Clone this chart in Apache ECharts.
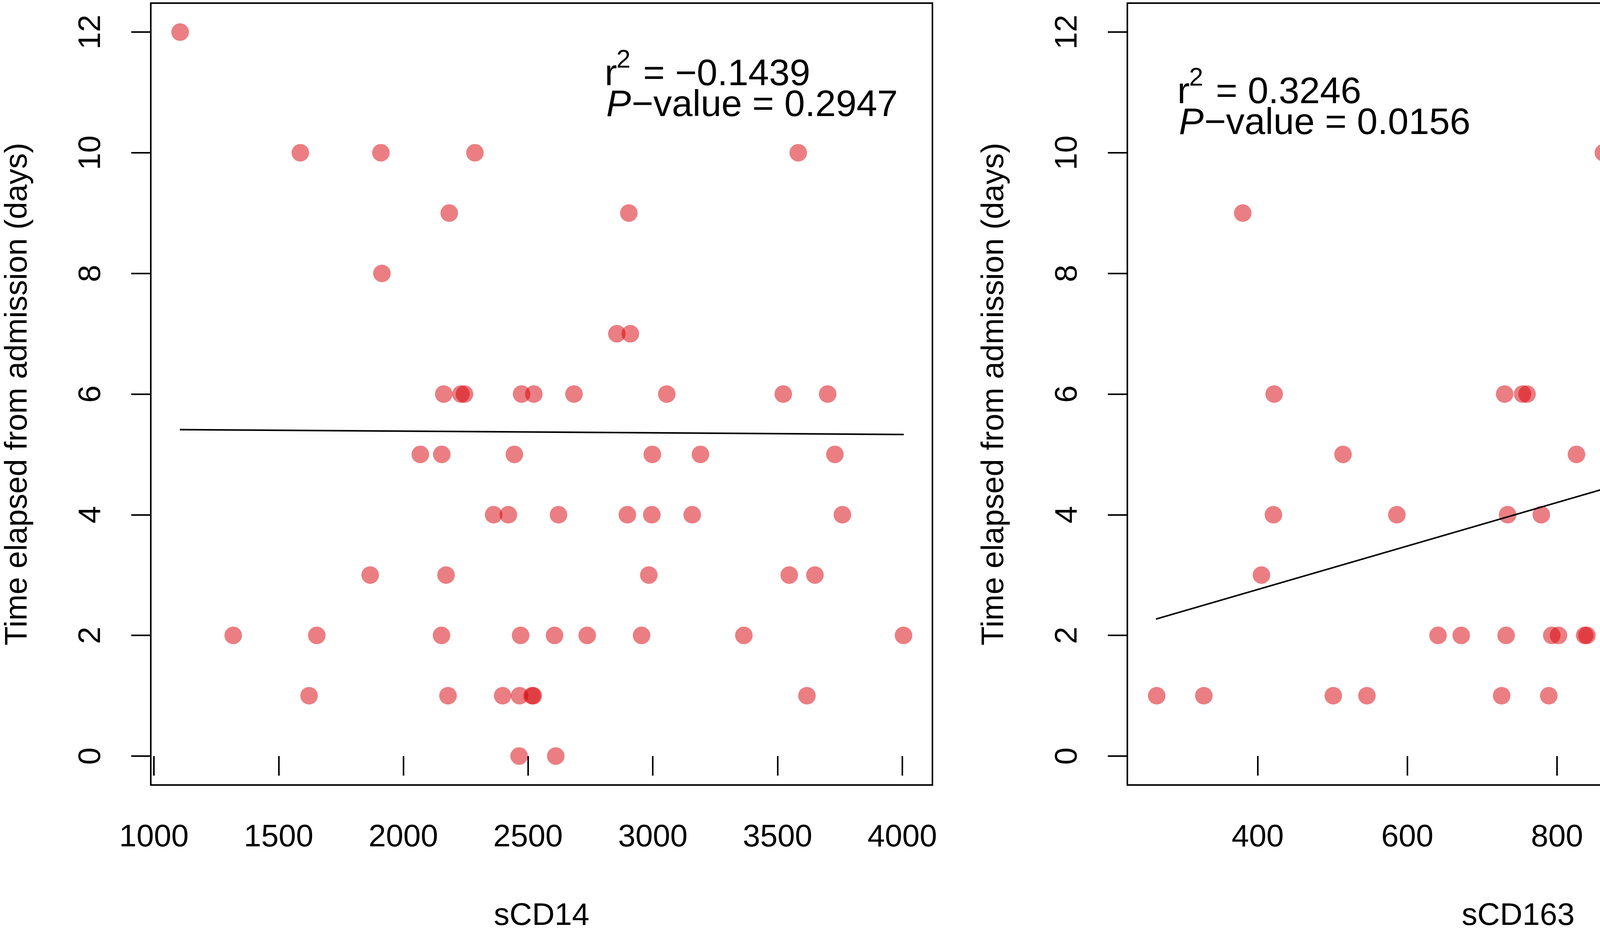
<!DOCTYPE html>
<html>
<head>
<meta charset="utf-8">
<script src="https://cdn.jsdelivr.net/npm/echarts@6/dist/echarts.min.js"></script>
<style>
html,body{margin:0;padding:0;background:#fff}
#main{width:4897px;height:2398px}
</style>
</head>
<body>
<div id="main"></div>
<script>
// sCD14 panel (left): x = sCD14, y = days since admission
var sCD14 = [1105, 1587, 1910, 2287, 3583, 2184, 2904, 1914, 2856, 2910,
    2162, 2231, 2245, 2474, 2523, 2684, 3056, 3523, 3701,
    2068, 2154, 2445, 2998, 3191, 3730,
    2362, 2421, 2622, 2898, 2996, 3158, 3760,
    1867, 2171, 2984, 3547, 3650,
    1318, 1653, 2153, 2470, 2606, 2737, 2955, 3365, 4005,
    1622, 2179, 2398, 2466, 2516, 2521, 3618,
    2464, 2611];
var daysCD14 = [12, 10, 10, 10, 10, 9, 9, 8, 7, 7,
    6, 6, 6, 6, 6, 6, 6, 6, 6,
    5, 5, 5, 5, 5, 5,
    4, 4, 4, 4, 4, 4, 4,
    3, 3, 3, 3, 3,
    2, 2, 2, 2, 2, 2, 2, 2, 2,
    1, 1, 1, 1, 1, 1, 1,
    0, 0];
// sCD163 panel (right)
var sCD163 = [1211, 862, 1056, 1100, 1230, 380, 1042, 1197, 973, 1230,
    422, 730, 754, 760, 1052, 1121, 1170, 1170,
    514, 826, 920, 937, 1014, 1140,
    421, 586, 734, 779, 976, 1088, 1166,
    405, 910, 955, 1128, 1172,
    641, 672, 732, 793, 802, 837, 840, 903, 1060,
    265, 328, 501, 546, 726, 789, 964,
    1103, 1209];
var daysCD163 = [12, 10, 10, 10, 10, 9, 9, 8, 7, 7,
    6, 6, 6, 6, 6, 6, 6, 6,
    5, 5, 5, 5, 5, 5,
    4, 4, 4, 4, 4, 4, 4,
    3, 3, 3, 3, 3,
    2, 2, 2, 2, 2, 2, 2, 2, 2,
    1, 1, 1, 1, 1, 1, 1,
    0, 0];
// fitted lines, end points
var fitCD14X = [1104, 4006];
var fitCD14Y = [5.41, 5.33];
var fitCD163X = [264, 1232];
var fitCD163Y = [2.27, 5.76];
// tick labels
var ticksCD14 = [1000, 1500, 2000, 2500, 3000, 3500, 4000];
var ticksCD163 = [400, 600, 800, 1000, 1200];
var ticksDays = [0, 2, 4, 6, 8, 10, 12];
// stats text
var statsCD14 = {r2: '\u22120.1439', p: '0.2947'};
var statsCD163 = {r2: '0.3246', p: '0.0156'};

var FONT = "'Liberation Sans', Arial, Helvetica, sans-serif";
var pointColor = 'rgba(216,0,8,0.63)';

function pairs(xs, ys) {
    var out = [];
    for (var i = 0; i < xs.length; i++) out.push([xs[i], ys[i]]);
    return out;
}
function plain(v) {
    return String(v);
}

function xAxisOf(idx, min, max, ticks, name) {
    return {
        type: 'value', gridIndex: idx, min: min, max: max,
        name: name, nameLocation: 'middle', nameGap: 296,
        nameTextStyle: {fontSize: 80, fontFamily: FONT, color: '#000'},
        splitLine: {show: false},
        axisLine: {show: false},
        axisTick: {show: true, length: 50, customValues: ticks, lineStyle: {color: '#000', width: 4}},
        axisLabel: {fontSize: 80, fontFamily: FONT, color: '#000', margin: 95, customValues: ticks, formatter: plain}
    };
}
function yAxisOf(idx) {
    return {
        type: 'value', gridIndex: idx, min: -0.48, max: 12.48,
        name: 'Time elapsed from admission (days)', nameLocation: 'middle', nameGap: 300, nameRotate: 90,
        nameTextStyle: {fontSize: 80, fontFamily: FONT, color: '#000'},
        splitLine: {show: false},
        axisLine: {show: false},
        axisTick: {show: true, length: 50, customValues: ticksDays, lineStyle: {color: '#000', width: 4}},
        axisLabel: {fontSize: 80, fontFamily: FONT, color: '#000', margin: 112, rotate: 90, customValues: ticksDays, formatter: plain}
    };
}
function statText(x, y, s) {
    return [
        {type: 'text', x: x, y: y, style: {text: 'r', fontSize: 95, fontFamily: FONT, fill: '#000', verticalAlign: 'middle'}},
        {type: 'text', x: x + 30, y: y - 37, style: {text: '2', fontSize: 65, fontFamily: FONT, fill: '#000', verticalAlign: 'middle'}},
        {type: 'text', x: x + 72, y: y, style: {text: ' = ' + s.r2, fontSize: 95, fontFamily: FONT, fill: '#000', verticalAlign: 'middle'}},
        {type: 'text', x: x + 4, y: y + 79, style: {text: 'P', fontSize: 95, fontFamily: FONT, fontStyle: 'italic', fill: '#000', verticalAlign: 'middle'}},
        {type: 'text', x: x + 69, y: y + 79, style: {text: '\u2212value = ' + s.p, fontSize: 95, fontFamily: FONT, fill: '#000', verticalAlign: 'middle'}}
    ];
}

var myChart = echarts.init(document.getElementById('main'), null, {renderer: 'canvas'});
var option = {
    backgroundColor: '#fff',
    animation: false,
    grid: [
        {left: 386, top: 8, width: 2001, height: 2001, show: true, borderColor: '#000', borderWidth: 4},
        {left: 2886, top: 8, width: 2001, height: 2001, show: true, borderColor: '#000', borderWidth: 4}
    ],
    xAxis: [
        xAxisOf(0, 987.5, 4121, ticksCD14, 'sCD14'),
        xAxisOf(1, 225.8, 1270.4, ticksCD163, 'sCD163')
    ],
    yAxis: [yAxisOf(0), yAxisOf(1)],
    series: [
        {type: 'scatter', xAxisIndex: 0, yAxisIndex: 0, symbolSize: 45,
            itemStyle: {color: pointColor}, data: pairs(sCD14, daysCD14)},
        {type: 'line', xAxisIndex: 0, yAxisIndex: 0, symbol: 'none',
            lineStyle: {color: '#000', width: 4}, data: pairs(fitCD14X, fitCD14Y)},
        {type: 'scatter', xAxisIndex: 1, yAxisIndex: 1, symbolSize: 45,
            itemStyle: {color: pointColor}, data: pairs(sCD163, daysCD163)},
        {type: 'line', xAxisIndex: 1, yAxisIndex: 1, symbol: 'none',
            lineStyle: {color: '#000', width: 4}, data: pairs(fitCD163X, fitCD163Y)}
    ],
    graphic: statText(1548, 192, statsCD14).concat(statText(3014, 238, statsCD163))
};
myChart.setOption(option);
</script>
</body>
</html>
